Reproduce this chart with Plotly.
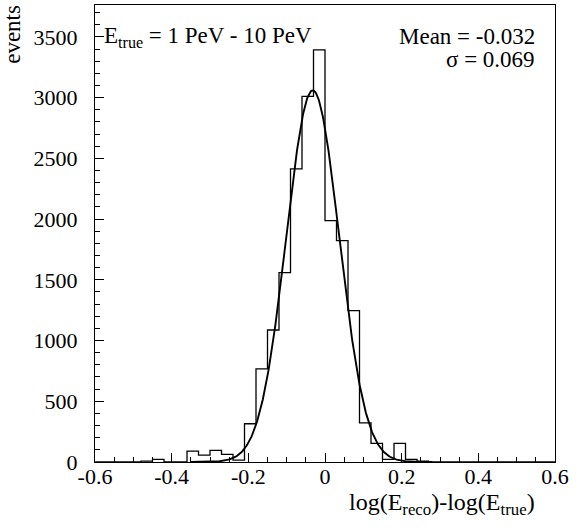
import numpy as np
import plotly.graph_objects as go

# ---- data ----
x_min = -0.6
bin_width = 0.03
counts = [0, 0, 0, 0, 8, 22, 0, 0, 90, 57,
          95, 62, 15, 315, 766, 1087, 1560, 2413, 3010, 3394,
          1988, 1823, 1247, 322, 154, 22, 154, 22, 8, 0,
          0, 0, 0, 0, 0, 0, 0, 0, 0, 0]

fit_mean = -0.032
fit_sigma = 0.069
fit_amplitude = 3060
fit_range = [-0.35, 0.28]

x_tick_vals = [-0.6, -0.4, -0.2, 0, 0.2, 0.4, 0.6]
x_tick_text = ["-0.6", "-0.4", "-0.2", "0", "0.2", "0.4", "0.6"]
y_tick_vals = [0, 500, 1000, 1500, 2000, 2500, 3000, 3500]
y_tick_text = ["0", "500", "1000", "1500", "2000", "2500", "3000", "3500"]

x_range = [-0.6, 0.6]
y_range = [0, 3763]

label_energy = "E<sub>true</sub> = 1 PeV - 10 PeV"
label_mean = "Mean = -0.032"
label_sigma = "σ = 0.069"
x_title = "log(E<sub>reco</sub>)-log(E<sub>true</sub>)"
y_title = "events"

# ---- build ----
edges = np.round(x_min + bin_width * np.arange(len(counts) + 1), 6)
step_y = list(counts) + [counts[-1]]

xf = np.linspace(fit_range[0], fit_range[1], 400)
yf = fit_amplitude * np.exp(-0.5 * ((xf - fit_mean) / fit_sigma) ** 2)

FONT = "Liberation Serif"
fig = go.Figure()
fig.add_trace(go.Scatter(x=edges, y=step_y, mode="lines", line_shape="hv",
                         line=dict(color="black", width=1.3), hoverinfo="skip"))
fig.add_trace(go.Scatter(x=xf, y=yf, mode="lines",
                         line=dict(color="black", width=1.9), hoverinfo="skip"))

axis_common = dict(showline=True, linecolor="black", linewidth=1, mirror=True,
                   showgrid=False, zeroline=False, ticks="inside", tickcolor="black",
                   ticklen=9, tickwidth=1,
                   tickfont=dict(family=FONT, size=22, color="black"))

fig.update_xaxes(range=x_range, tickmode="array", tickvals=x_tick_vals, ticktext=x_tick_text,
                 minor=dict(tickmode="linear", tick0=-0.6, dtick=0.05, ticks="inside",
                            ticklen=5, tickcolor="black", showgrid=False),
                 ticklabelstandoff=-5, **axis_common)
fig.update_yaxes(range=y_range, tickmode="array", tickvals=y_tick_vals, ticktext=y_tick_text,
                 minor=dict(tickmode="linear", tick0=0, dtick=100, ticks="inside",
                            ticklen=5, tickcolor="black", showgrid=False),
                 ticklabelstandoff=12, **axis_common)

tf = dict(family=FONT, size=23, color="black")
fig.add_annotation(text=label_energy, xref="paper", yref="paper", x=0.015, y=0.93,
                   xanchor="left", yanchor="middle", showarrow=False, font=tf)
fig.add_annotation(text=label_mean, xref="paper", yref="paper", x=0.961, y=0.93,
                   xanchor="right", yanchor="middle", showarrow=False, font=tf)
fig.add_annotation(text=label_sigma, xref="paper", yref="paper", x=0.961, y=0.88,
                   xanchor="right", yanchor="middle", showarrow=False, font=tf)
fig.add_annotation(text=x_title, xref="paper", yref="paper", x=0.961, y=-0.092,
                   xanchor="right", yanchor="middle", showarrow=False,
                   font=dict(family=FONT, size=24, color="black"))
fig.add_annotation(text=y_title, xref="paper", yref="paper", x=-0.178, y=0.935,
                   xanchor="center", yanchor="middle", textangle=-90, showarrow=False, font=tf)

fig.update_layout(width=583, height=530, margin=dict(l=95, r=28, t=5, b=68),
                  paper_bgcolor="white", plot_bgcolor="white", showlegend=False,
                  font=dict(family=FONT, color="black"))

fig.write_html("out.html")
